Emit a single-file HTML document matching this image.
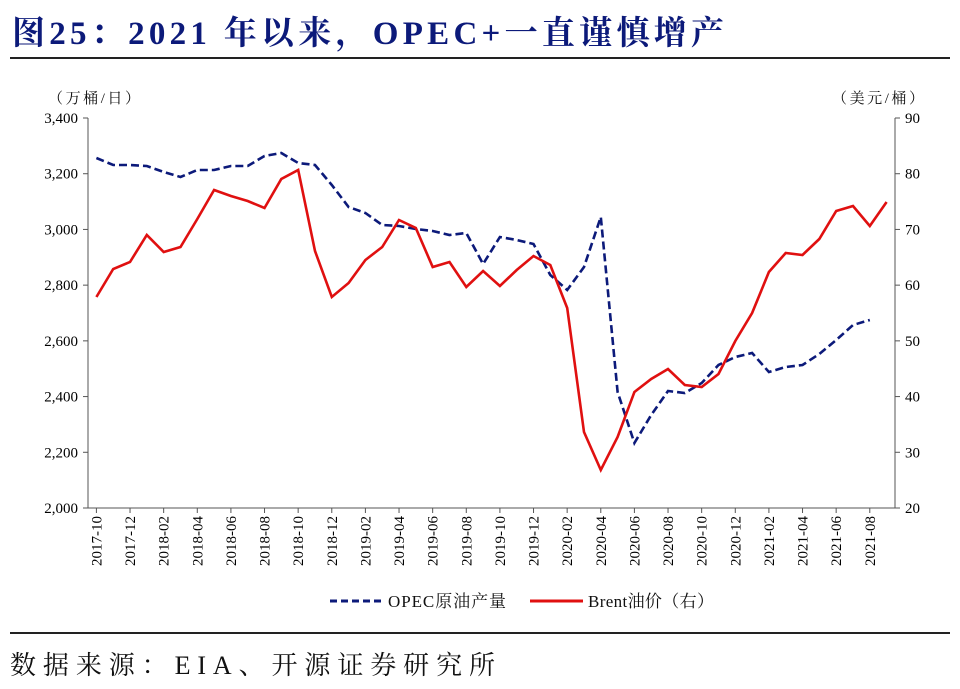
<!DOCTYPE html>
<html><head><meta charset="utf-8"><style>
body{margin:0;background:#fff;width:960px;height:689px;overflow:hidden}
svg{display:block}
</style></head><body>
<svg id="s" width="960" height="689" xmlns="http://www.w3.org/2000/svg" font-family="'Liberation Serif','Noto Serif CJK SC',serif">
<text x="12" y="44" font-size="33" font-weight="bold" fill="#0c1a7a" textLength="712" lengthAdjust="spacing">图25：2021 年以来，OPEC+一直谨慎增产</text>
<line x1="10" y1="58" x2="950" y2="58" stroke="#222" stroke-width="2"/>
<line x1="10" y1="633" x2="950" y2="633" stroke="#222" stroke-width="2"/>
<text x="10" y="674" font-size="26" fill="#111" textLength="485" lengthAdjust="spacing">数据来源：EIA、开源证券研究所</text>
<text x="48" y="103" font-size="15" fill="#111" textLength="92" lengthAdjust="spacing">（万桶/日）</text>
<text x="832" y="103" font-size="15" fill="#111" textLength="92" lengthAdjust="spacing">（美元/桶）</text>
<g id="g"></g>
<line x1="330" y1="601" x2="383" y2="601" stroke="#0c1a7a" stroke-width="3" stroke-dasharray="7,4"/>
<text x="388" y="607" font-size="17" fill="#111" textLength="118" lengthAdjust="spacing">OPEC原油产量</text>
<line x1="530" y1="601" x2="583" y2="601" stroke="#e01010" stroke-width="3"/>
<text x="588" y="607" font-size="17" fill="#111" textLength="126" lengthAdjust="spacing">Brent油价（右）</text>
</svg>
<script>
var g=document.getElementById('g'),h='';
var L=88,R=895,T=118,B=508;
h+='<line x1="'+L+'" y1="'+T+'" x2="'+L+'" y2="'+B+'" stroke="#555"/>';
h+='<line x1="'+R+'" y1="'+T+'" x2="'+R+'" y2="'+B+'" stroke="#555"/>';
h+='<line x1="'+L+'" y1="'+B+'" x2="'+R+'" y2="'+B+'" stroke="#555"/>';
for(var i=0;i<=7;i++){var y=T+i*(B-T)/7;var v=3400-i*200;
h+='<line x1="'+(L-5)+'" y1="'+y+'" x2="'+L+'" y2="'+y+'" stroke="#555"/>';
h+='<line x1="'+R+'" y1="'+y+'" x2="'+(R+5)+'" y2="'+y+'" stroke="#555"/>';
h+='<text x="'+(L-10)+'" y="'+(y+5)+'" font-size="15" text-anchor="end">'+(v+'').replace(/(\d)(\d{3})$/,'$1,$2')+'</text>';
h+='<text x="'+(R+10)+'" y="'+(y+5)+'" font-size="15">'+(90-i*10)+'</text>';}
var w=(R-L)/48;
for(var i=0;i<48;i+=2){var x=L+w/2+i*w;var m=9+i;var yr=2017+Math.floor(m/12);var mo=m%12+1;
var lab=yr+'-'+(mo<10?'0':'')+mo;
h+='<line x1="'+x+'" y1="'+B+'" x2="'+x+'" y2="'+(B+5)+'" stroke="#555"/>';
h+='<text transform="translate('+(x+5)+','+(B+8)+') rotate(-90)" font-size="15" text-anchor="end">'+lab+'</text>';}
var o=[158,165,165,166,172,177,170,170,166,166,156,153,163,165,185,207,213,225,226,229,231,235,233,264,237,240,244,275,290,267,217,392,443,415,391,393,383,365,357,353,372,367,365,354,340,325,320];
var b=[297,269,262,235,252,247,219,190,196,201,208,179,170,251,297,283,260,247,220,228,267,262,287,271,286,270,256,265,308,432,470,437,392,379,369,385,387,374,341,313,272,253,255,239,211,206,226,202];
function pl(a){return a.map(function(y,i){return (L+w/2+i*w).toFixed(1)+','+y}).join(' ');}
h+='<polyline points="'+pl(o)+'" fill="none" stroke="#0c1a7a" stroke-width="2.6" stroke-dasharray="8,4"/>';
h+='<polyline points="'+pl(b)+'" fill="none" stroke="#e01010" stroke-width="2.6"/>';
g.innerHTML=h;
</script>
</body></html>
